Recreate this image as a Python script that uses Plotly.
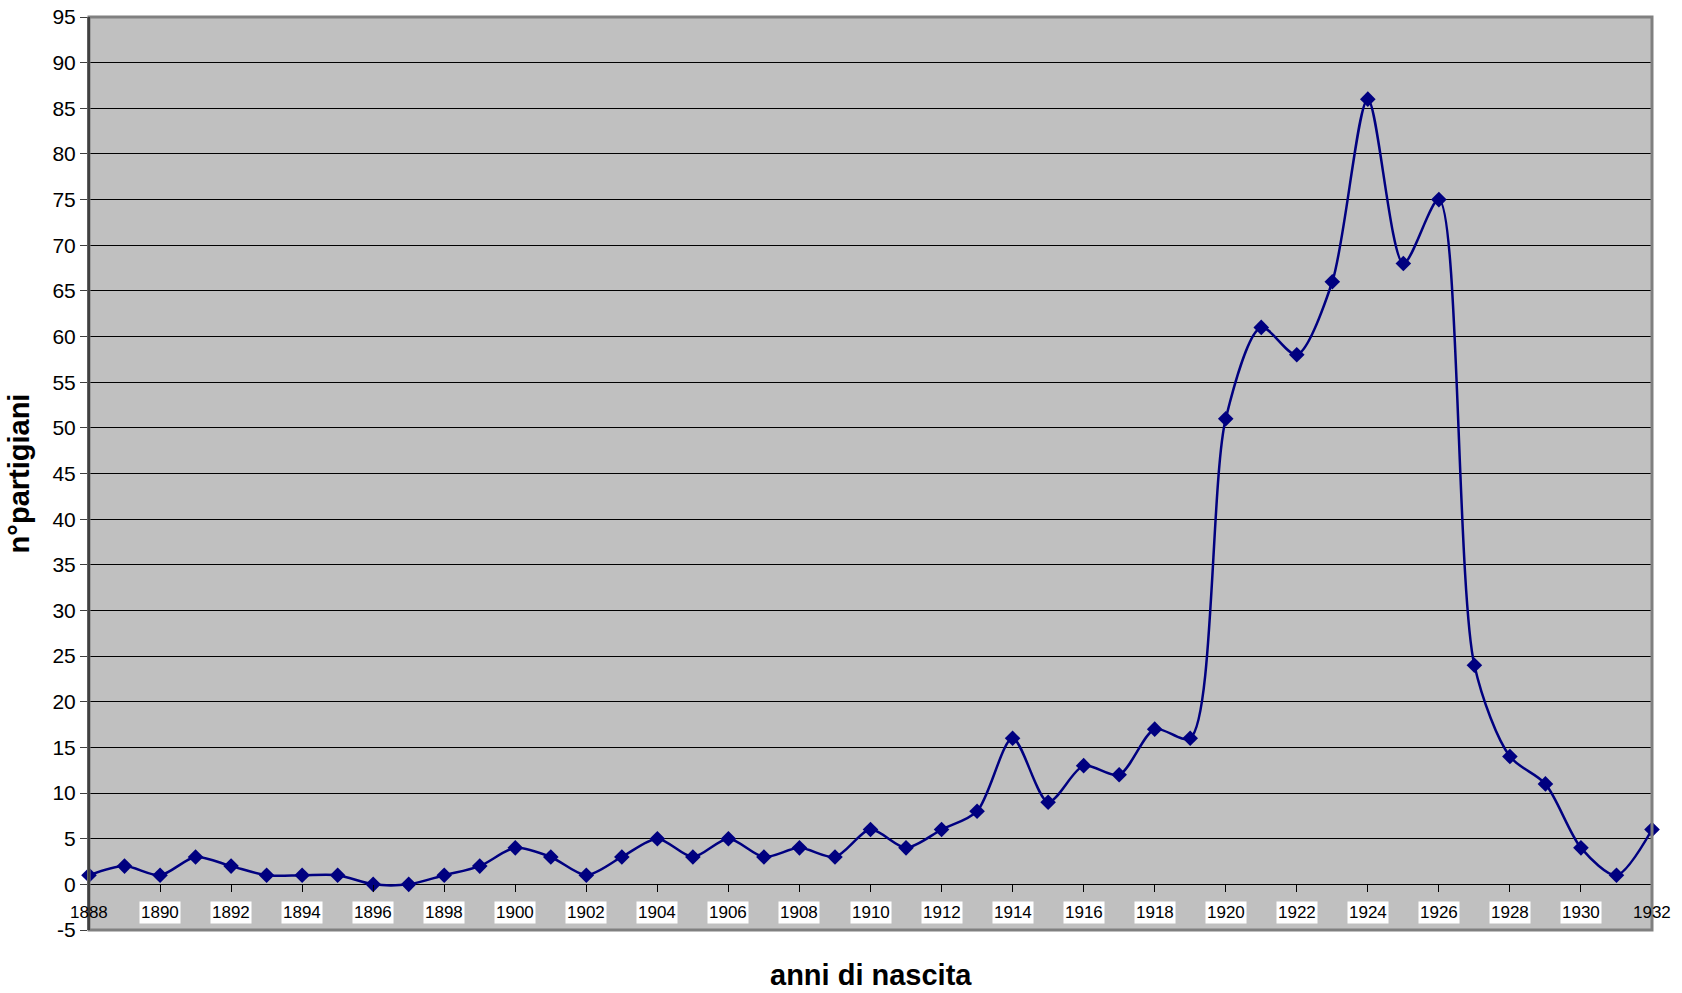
import plotly.graph_objects as go

# Birth years and number of partisans born in each year
anni = list(range(1888, 1933))
partigiani = [1, 2, 1, 3, 2, 1, 1, 1, 0, 0, 1, 2, 4, 3, 1, 3, 5, 3, 5, 3,
              4, 3, 6, 4, 6, 8, 16, 9, 13, 12, 17, 16, 51, 61, 58, 66, 86, 68, 75, 24,
              14, 11, 4, 1, 6]

x_ticks = list(range(1888, 1933, 2))
y_ticks = list(range(-5, 96, 5))
y_labels = [str(v) for v in y_ticks]

FONT = "Liberation Sans, Arial, sans-serif"
NAVY = "#000080"

fig = go.Figure()

fig.add_trace(go.Scatter(
    x=anni, y=partigiani,
    mode="lines+markers",
    line=dict(color=NAVY, width=2.5, shape="spline", smoothing=0.8),
    marker=dict(symbol="diamond", size=12, color=NAVY),
    showlegend=False,
    cliponaxis=False,
))

# Year labels sitting just below the zero line, on white boxes
for yr in x_ticks:
    end = yr in (x_ticks[0], x_ticks[-1])
    fig.add_annotation(
        x=yr, y=0, xref="x", yref="y",
        text=str(yr), showarrow=False,
        yshift=-28,
        font=dict(family=FONT, size=17, color="black"),
        bgcolor="rgba(0,0,0,0)" if end else "white",
        borderpad=1,
    )

fig.update_layout(
    width=1682, height=993,
    margin=dict(l=89, r=30, t=17, b=63, autoexpand=False),
    paper_bgcolor="white",
    plot_bgcolor="#C0C0C0",
    font=dict(family=FONT, color="black"),
    xaxis=dict(
        range=[1888, 1932],
        tickvals=x_ticks,
        showticklabels=False,
        ticks="outside", ticklen=7, tickcolor="black", tickwidth=1,
        showgrid=False, zeroline=False, showline=False,
        anchor="free", position=0.05,
        automargin=False,
    ),
    yaxis=dict(
        range=[-5, 95],
        tickvals=y_ticks,
        ticktext=y_labels,
        ticks="outside", ticklen=7, tickcolor="#404040", tickwidth=1,
        tickfont=dict(family=FONT, size=21, color="black"),
        showgrid=True, gridcolor="#000000", gridwidth=1,
        zeroline=False,
        showline=True, linecolor="#404040", linewidth=2,
        automargin=False,
        title=dict(text="<b>n°partigiani</b>", font=dict(family=FONT, size=29, color="black"),
                   standoff=14),
    ),
)

# Plot frame
fig.add_shape(type="rect", xref="paper", yref="paper", x0=0, x1=1, y0=0, y1=1,
              line=dict(color="#808080", width=3), layer="above")
fig.add_shape(type="line", xref="paper", yref="paper", x0=0, x1=0, y0=0, y1=1,
              line=dict(color="#404040", width=2), layer="above")

fig.add_annotation(
    text="<b>anni di nascita</b>", xref="paper", yref="paper",
    x=0.5, y=0, yanchor="middle", yshift=-45, showarrow=False,
    font=dict(family=FONT, size=29, color="black"),
)

fig.write_html("out.html")
